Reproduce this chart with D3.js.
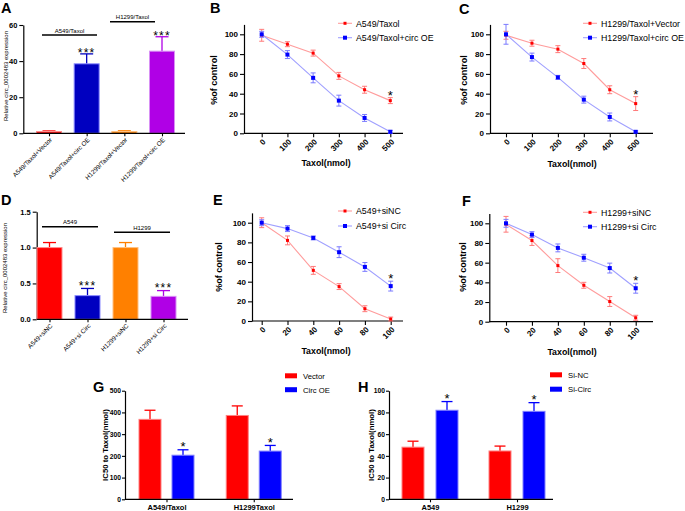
<!DOCTYPE html>
<html><head><meta charset="utf-8">
<script src="https://cdn.jsdelivr.net/npm/d3@7"></script>
<style>body{margin:0;background:#fff}svg{display:block}</style>
</head><body>
<script>
// ---------- DATA ----------
const aCats = ["A549/Taxol+Vector","A549/Taxol+circ OE","H1299/Taxol+Vector","H1299/Taxol+circ OE"];
const aVals = [1, 38.5, 1, 45.5];
const aErr  = [0.3, 5.5, 0.4, 8];
const aTicks = [0, 20, 40, 60];

const dCats = ["A549+siNC","A549+si Circ","H1299+siNC","H1299+si Circ"];
const dVals = [1.0, 0.33, 1.0, 0.32];
const dErr  = [0.07, 0.10, 0.07, 0.08];
const dTicks = [0, 0.5, 1.0, 1.5];

const barColors = ["#ff0000","#0000c0","#ff8000","#b000e6"];
const barStroke = ["#ff8c8c","#8c8cff","#ffc080","#d890f5"];

const doseOE = [0, 100, 200, 300, 400, 500];
const doseSi = [0, 20, 40, 60, 80, 100];
const yTicksLine = [0, 20, 40, 60, 80, 100];

const bRed = [99, 90, 81, 58, 44, 33];      const bRedErr = [6, 2.5, 3, 3.5, 3.5, 3];
const bBlue = [100, 79.5, 56, 33, 15.5, 1.5]; const bBlueErr = [3, 4, 5, 5.5, 3.5, 1.5];
const cRed = [99, 91, 85, 70.5, 44, 30];    const cRedErr = [4, 3, 3.5, 5, 4, 7];
const cBlue = [100, 77, 56.5, 34, 16.5, 1.5]; const cBlueErr = [10, 4, 2, 3.5, 4, 1];
const eRed = [100, 82, 51.5, 35, 12.5, 2];  const eRedErr = [5, 4.5, 4, 3, 3, 2];
const eBlue = [100, 94, 84.5, 70, 55, 35.5]; const eBlueErr = [3, 3, 2, 5.5, 4.5, 5];
const fRed = [99, 82.5, 57, 37, 20.5, 4];   const fRedErr = [8, 5, 7, 3, 5, 2.5];
const fBlue = [100, 88.5, 75, 65, 54.5, 34]; const fBlueErr = [4, 3, 4, 3.5, 5, 5];

const gGroups = ["A549/Taxol","H1299Taxol"];
const gVector = [368, 386]; const gVectorErr = [42, 44];
const gCirc = [203, 222];   const gCircErr = [25, 26];
const gTicks = [0, 100, 200, 300, 400, 500];

const hGroups = ["A549","H1299"];
const hNC = [48, 44.5];  const hNCErr = [5.5, 4.5];
const hCirc = [82, 81];  const hCircErr = [8, 8];
const hTicks = [0, 20, 40, 60, 80, 100];

// ---------- DRAW ----------
const FONT = "'Liberation Sans', Arial, sans-serif";
const svg = d3.select("body").append("svg").attr("width",685).attr("height",511)
  .attr("font-family", FONT);
svg.append("rect").attr("width",685).attr("height",511).attr("fill","#fff");

function txt(g, t, x, y, size, opts={}) {
  const e = g.append("text").attr("x",x).attr("y",y).attr("font-size",size)
    .attr("font-weight", opts.bold ? "bold" : "normal")
    .attr("text-anchor", opts.anchor || "start").attr("fill", opts.fill || "#000").text(t);
  if (opts.rotate) e.attr("transform", `rotate(${opts.rotate},${x},${y})`);
  if (opts.ls) e.attr("letter-spacing", opts.ls);
  return e;
}
function letter(t, x, y) { txt(svg, t, x, y, 14.5, {bold:true}); }
function star(g, x, cy, size, n) {
  txt(g, "*".repeat(n), x, cy + 0.58*size, size, {anchor:"middle", ls: n>1 ? 1.2 : null});
}
function styleAxis(a, size, bold) {
  a.selectAll(".tick line").attr("stroke","#000").attr("stroke-width",1.1);
  a.selectAll(".tick text").attr("font-size", size).attr("font-weight", bold ? "bold" : "normal")
    .attr("font-family", FONT).attr("fill","#000");
  a.select(".domain").attr("stroke","#000").attr("stroke-width",1.2);
}

// ----- bar charts A & D -----
function barChart(o) {
  const g = svg.append("g");
  const x = d3.scalePoint().domain(o.cats).range(o.xr);
  const y = d3.scaleLinear().domain([0, o.ticks[o.ticks.length-1]]).range([o.y0, o.yTop]);
  const ya = g.append("g").attr("transform",`translate(${o.axisX},0)`)
    .call(d3.axisLeft(y).tickValues(o.ticks).tickSize(4).tickSizeOuter(0).tickPadding(2).tickFormat(o.fmt));
  styleAxis(ya, 7.5, true);
  const bw = 25;
  o.vals.forEach((v,i) => {
    const cx = x(o.cats[i]);
    const top = y(v + o.err[i]);
    g.append("line").attr("x1",cx).attr("x2",cx).attr("y1",y(v)).attr("y2",top)
      .attr("stroke",barColors[i]).attr("stroke-width",1.3);
    g.append("line").attr("x1",cx-6.5).attr("x2",cx+6.5).attr("y1",top).attr("y2",top)
      .attr("stroke",barColors[i]).attr("stroke-width",1.3);
    g.append("rect").attr("x",cx-bw/2).attr("y",y(v)).attr("width",bw).attr("height",o.y0-y(v))
      .attr("fill",barColors[i]).attr("stroke",barStroke[i]).attr("stroke-width",1);
  });
  const xa = g.append("g").attr("transform",`translate(0,${o.y0})`)
    .call(d3.axisBottom(x).tickSize(3).tickSizeOuter(0));
  xa.select(".domain").remove();
  styleAxis(xa, 6.3, false);
  xa.selectAll(".tick text").attr("x",0).attr("y",0).attr("dy",0).attr("text-anchor","end")
    .attr("transform","translate(3,7) rotate(-45)");
  g.append("line").attr("x1",o.axisX).attr("x2",o.axisEnd).attr("y1",o.y0).attr("y2",o.y0)
    .attr("stroke","#000").attr("stroke-width",1.3);
  o.groups.forEach(gr => {
    g.append("line").attr("x1",gr.x1).attr("x2",gr.x2).attr("y1",gr.y).attr("y2",gr.y)
      .attr("stroke","#000").attr("stroke-width",1.4);
    txt(g, gr.label, (gr.x1+gr.x2)/2, gr.y-2.5, 6, {anchor:"middle"});
  });
  o.stars.forEach(s => {
    const i = s.i;
    star(g, x(o.cats[i]), y(o.vals[i]+o.err[i]) - s.off, 12, 3);
  });
  txt(g, o.ylabel, o.ylx, o.yly, 6, {anchor:"middle", rotate:-90});
}

barChart({cats:aCats, vals:aVals, err:aErr, ticks:aTicks, fmt:d3.format("d"),
  xr:[49,162], y0:133.3, yTop:25, axisX:23.3, axisEnd:185,
  groups:[{label:"A549/Taxol", x1:42, x2:97, y:35},{label:"H1299/Taxol", x1:110, x2:155, y:21.7}],
  stars:[{i:1, off:4},{i:3, off:3.5}],
  ylabel:"Relative circ_0002483 expression", ylx:8, yly:76});
barChart({cats:dCats, vals:dVals, err:dErr, ticks:dTicks, fmt:d3.format(".1f"),
  xr:[49.5,163.5], y0:319.3, yTop:211.7, axisX:36.7, axisEnd:188,
  groups:[{label:"A549", x1:42, x2:98, y:226.7},{label:"H1299", x1:114, x2:170, y:232.3}],
  stars:[{i:1, off:5},{i:3, off:6}],
  ylabel:"Relative circ_0002483 expression", ylx:7, yly:268});

// ----- line charts B, C, E, F -----
const redLine = "#ff9c9c", redMark = "#ff0000", redErr = "#ff7a7a";
const blueLine = "#a0a0ff", blueMark = "#0000ff", blueErr = "#7a7aff";
function lineChart(o) {
  const g = svg.append("g");
  const x = d3.scaleLinear().domain([o.dose[0], o.dose[o.dose.length-1]]).range([o.x0, o.x1]);
  const y = d3.scaleLinear().domain([0,100]).range([o.y0, o.y100]);
  const yAxisScale = d3.scaleLinear().domain([0,110]).range([o.y0, y(110)]);
  const ya = g.append("g").attr("transform",`translate(${o.axisX},0)`)
    .call(d3.axisLeft(yAxisScale).tickValues(yTicksLine).tickSize(4).tickSizeOuter(0).tickPadding(2));
  styleAxis(ya, 8, true);
  const xa = g.append("g").attr("transform",`translate(0,${o.y0})`)
    .call(d3.axisBottom(x).tickValues(o.dose).tickSize(4).tickSizeOuter(0).tickFormat(d3.format("d")));
  xa.select(".domain").remove();
  styleAxis(xa, 8, true);
  xa.selectAll(".tick text").attr("x",0).attr("y",0).attr("dy",0).attr("text-anchor","end")
    .attr("transform","translate(4,9) rotate(-45)");
  g.append("line").attr("x1",o.axisX).attr("x2",o.axisEnd).attr("y1",o.y0).attr("y2",o.y0)
    .attr("stroke","#000").attr("stroke-width",1.2);

  const series = [
    {v:o.red, e:o.redE, line:redLine, mark:redMark, err:redErr, ms:3},
    {v:o.blue, e:o.blueE, line:blueLine, mark:blueMark, err:blueErr, ms:4}
  ];
  series.forEach(s => {
    const pts = o.dose.map((d,i)=>[x(d), y(s.v[i])]);
    g.append("path").attr("d", d3.line()(pts)).attr("fill","none")
      .attr("stroke", s.line).attr("stroke-width",1.1);
    o.dose.forEach((d,i) => {
      const cx = x(d), t = y(s.v[i]+s.e[i]), b = y(Math.max(0,s.v[i]-s.e[i]));
      g.append("line").attr("x1",cx).attr("x2",cx).attr("y1",t).attr("y2",b).attr("stroke",s.err).attr("stroke-width",1);
      [t,b].forEach(yy => g.append("line").attr("x1",cx-2.5).attr("x2",cx+2.5).attr("y1",yy).attr("y2",yy)
        .attr("stroke",s.err).attr("stroke-width",1));
    });
    o.dose.forEach((d,i) => {
      g.append("rect").attr("x",x(d)-s.ms/2).attr("y",y(s.v[i])-s.ms/2).attr("width",s.ms).attr("height",s.ms)
        .attr("fill",s.mark);
    });
  });
  const si = o.dose.length-1;
  const sv = o.starOn === "red" ? o.red[si]+o.redE[si] : o.blue[si]+o.blueE[si];
  star(g, x(o.dose[si]), y(sv) - 5.5, 13, 1);
  [[o.labels[0], series[0], o.legY[0]], [o.labels[1], series[1], o.legY[1]]].forEach(([lab,s,ly]) => {
    g.append("line").attr("x1",o.legX).attr("x2",o.legX+14).attr("y1",ly).attr("y2",ly)
      .attr("stroke",s.line).attr("stroke-width",1.1);
    g.append("rect").attr("x",o.legX+7-s.ms/2).attr("y",ly-s.ms/2).attr("width",s.ms).attr("height",s.ms).attr("fill",s.mark);
    txt(g, lab, o.legX+18, ly+3.2, 8.8);
  });
  txt(g, "Taxol(nmol)", o.titleX, o.titleY, 8.8, {bold:true, anchor:"middle"});
  txt(g, "%of control", o.ylx, o.yly, 9, {bold:true, anchor:"middle", rotate:-90});
}

lineChart({dose:doseOE, red:bRed, redE:bRedErr, blue:bBlue, blueE:bBlueErr, starOn:"red",
  x0:261.7, x1:390.3, y0:133.3, y100:34.3, axisX:244, axisEnd:403,
  labels:["A549/Taxol","A549/Taxol+circ OE"], legX:338, legY:[23.3,37.7],
  titleX:326, titleY:166, ylx:217, yly:80});
lineChart({dose:doseOE, red:cRed, redE:cRedErr, blue:cBlue, blueE:cBlueErr, starOn:"red",
  x0:506, x1:635.7, y0:133.3, y100:34.3, axisX:490, axisEnd:653,
  labels:["H1299/Taxol+Vector","H1299/Taxol+circ OE"], legX:583, legY:[23.3,37.7],
  titleX:572, titleY:167, ylx:467, yly:80});
lineChart({dose:doseSi, red:eRed, redE:eRedErr, blue:eBlue, blueE:eBlueErr, starOn:"blue",
  x0:261.7, x1:390.7, y0:321, y100:222.7, axisX:252, axisEnd:403,
  labels:["A549+siNC","A549+si Circ"], legX:338, legY:[211,226],
  titleX:326, titleY:354, ylx:222, yly:267});
lineChart({dose:doseSi, red:fRed, redE:fRedErr, blue:fBlue, blueE:fBlueErr, starOn:"blue",
  x0:506, x1:635.7, y0:321.7, y100:223.3, axisX:489.3, axisEnd:653,
  labels:["H1299+siNC","H1299+si Circ"], legX:583, legY:[212.3,226.7],
  titleX:572, titleY:355, ylx:466, yly:267});

// ----- grouped bars G & H -----
function groupedBars(o) {
  const g = svg.append("g");
  const x = d3.scalePoint().domain(o.groups).range(o.xr);
  const y = d3.scaleLinear().domain([0, o.ticks[o.ticks.length-1]]).range([499.3, 390.7]);
  const ya = g.append("g").attr("transform",`translate(${o.axisX},0)`)
    .call(d3.axisLeft(y).tickValues(o.ticks).tickSize(3).tickSizeOuter(0).tickPadding(1));
  styleAxis(ya, 6.7, true);
  const bw = 22;
  const sets = [{v:o.a, e:o.aE, fill:"#ff0000", stroke:"#ff8080", off:-o.off},
                {v:o.b, e:o.bE, fill:"#0000ff", stroke:"#8080ff", off:o.off}];
  sets.forEach((s,k) => {
    o.groups.forEach((gr,i) => {
      const cx = x(gr) + s.off, top = y(s.v[i]+s.e[i]);
      g.append("line").attr("x1",cx).attr("x2",cx).attr("y1",y(s.v[i])).attr("y2",top).attr("stroke",s.fill).attr("stroke-width",1.3);
      g.append("line").attr("x1",cx-5.5).attr("x2",cx+5.5).attr("y1",top).attr("y2",top).attr("stroke",s.fill).attr("stroke-width",1.3);
      g.append("rect").attr("x",cx-bw/2).attr("y",y(s.v[i])).attr("width",bw).attr("height",499.3-y(s.v[i]))
        .attr("fill",s.fill).attr("stroke",s.stroke).attr("stroke-width",1);
      if (k===1) star(g, cx, top-6, 13, 1);
    });
  });
  const xa = g.append("g").attr("transform","translate(0,499.3)")
    .call(d3.axisBottom(x).tickSize(3).tickSizeOuter(0).tickPadding(2));
  xa.select(".domain").remove();
  styleAxis(xa, 7.5, true);
  xa.selectAll(".tick text").attr("dy",0).attr("y",10.5);
  g.append("line").attr("x1",o.axisX).attr("x2",o.axisEnd).attr("y1",499.3).attr("y2",499.3)
    .attr("stroke","#000").attr("stroke-width",1.3);
  [[o.labels[0],"#ff0000",o.legY[0]],[o.labels[1],"#0000ff",o.legY[1]]].forEach(([lab,c,ly]) => {
    g.append("rect").attr("x",o.legX).attr("y",ly-2.5).attr("width",12).attr("height",5).attr("fill",c);
    txt(g, lab, o.legX+18, ly+2.8, 7.7);
  });
  txt(g, "IC50 to Taxol(nmol)", o.ylx, 445, 7.8, {bold:true, anchor:"middle", rotate:-90});
}
groupedBars({groups:gGroups, a:gVector, aE:gVectorErr, b:gCirc, bE:gCircErr, ticks:gTicks,
  xr:[166.5,253.75], off:16.5, axisX:125, axisEnd:293, labels:["Vector","Circ OE"],
  legX:285, legY:[375.8,389.7], ylx:107.5});
groupedBars({groups:hGroups, a:hNC, aE:hNCErr, b:hCirc, bE:hCircErr, ticks:hTicks,
  xr:[430,517], off:17, axisX:389, axisEnd:553, labels:["Si-NC","Si-Circ"],
  legX:550, legY:[374.8,389.2], ylx:373.5});

// ----- panel letters -----
letter("A",1,12.5); letter("B",210,13); letter("C",459,13.5);
letter("D",1,205); letter("E",213,205); letter("F",462,206);
letter("G",93,392); letter("H",358,392);
</script>
</body></html>
